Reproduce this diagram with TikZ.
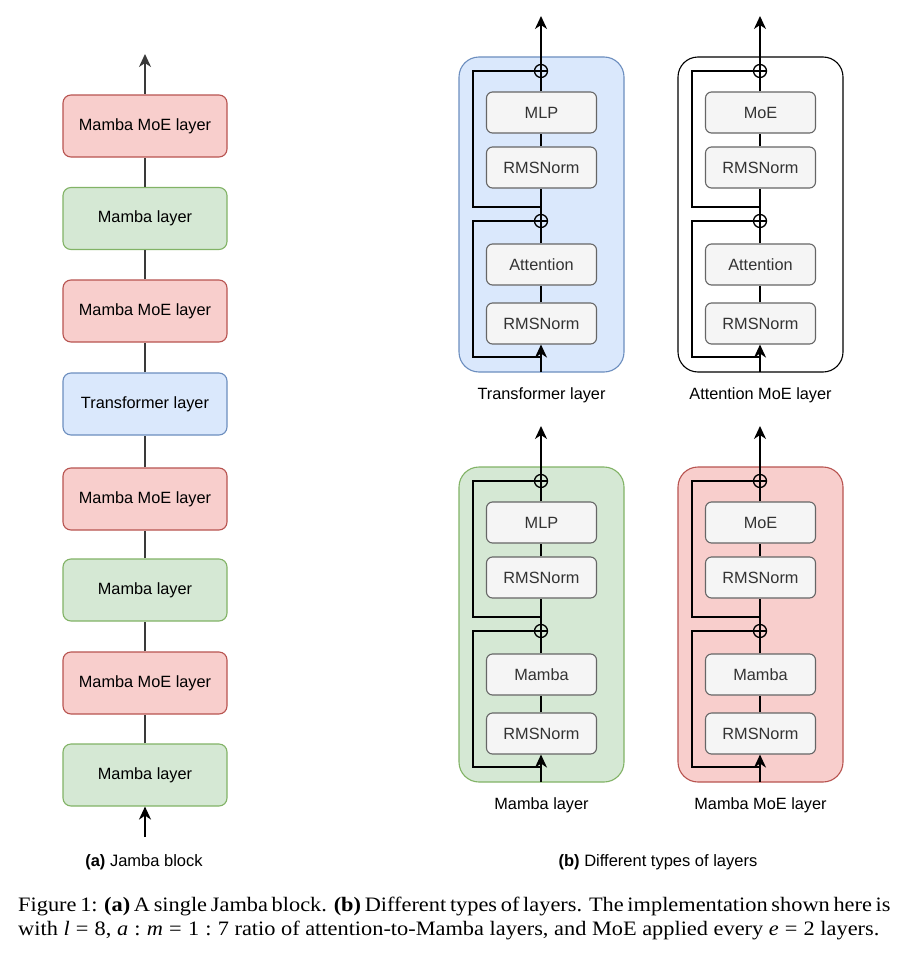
\documentclass[tikz,border=0pt]{standalone}
\usepackage{graphicx}
\usepackage{fontspec}
\setmainfont{Liberation Sans}
\newfontfamily\capfont{Liberation Serif}
\usetikzlibrary{arrows.meta}

\definecolor{redfill}{HTML}{F8CECC}
\definecolor{redline}{HTML}{B85450}
\definecolor{greenfill}{HTML}{D5E8D4}
\definecolor{greenline}{HTML}{82B366}
\definecolor{bluefill}{HTML}{DAE8FC}
\definecolor{blueline}{HTML}{6C8EBF}
\definecolor{greyfill}{HTML}{F5F5F5}
\definecolor{greyline}{HTML}{666666}
\definecolor{greytext}{HTML}{333333}
\definecolor{edgegrey}{HTML}{3A3A3A}

\tikzset{
  labelfont/.style={font=\fontsize{16.3}{19}\selectfont},
  blocklayer/.style={draw, rounded corners=8pt, minimum width=164pt,
    minimum height=62pt, line width=1.1pt, labelfont},
  mambaMoE/.style={blocklayer, fill=redfill, draw=redline},
  mambaL/.style={blocklayer, fill=greenfill, draw=greenline},
  transL/.style={blocklayer, fill=bluefill, draw=blueline},
  sublayer/.style={draw=greyline, fill=greyfill, rounded corners=6pt,
    minimum width=110pt, minimum height=41pt, line width=1.1pt,
    text=greytext, labelfont},
  container/.style={rounded corners=20pt, line width=1.1pt},
  sumnode/.style={circle, draw, line width=1.3pt, minimum size=13pt,
    inner sep=0pt, path picture={
      \draw[line width=1.3pt]
        (path picture bounding box.north) -- (path picture bounding box.south)
        (path picture bounding box.west) -- (path picture bounding box.east);}},
  flow/.style={line width=1.7pt},
  uparrow/.style={flow, -{Stealth[length=13pt,width=12pt,inset=4pt]}},
  subcap/.style={font=\fontsize{16.5}{19}\selectfont, anchor=base},
  capline/.style={anchor=base west, inner sep=0pt,
    font=\capfont\fontsize{20.5}{25}\selectfont},
}

% One residual layer: #1 name prefix, #2 x shift, #3 y shift, #4 container style,
% #5 upper sublayer, #6 lower mixer, #7 caption under the container
\newcommand{\residuallayer}[7]{%
  \begin{scope}[shift={(#2,#3)}]
    \path[container, #4] (459,57) rectangle (624,372);
    \node[sumnode] (#1-s1) at (541,71) {};
    \node[sublayer] (#1-f) at (541.5,112.5) {#5};
    \node[sublayer] (#1-n1) at (541.5,167.5) {RMSNorm};
    \node[sumnode] (#1-s2) at (541,221) {};
    \node[sublayer] (#1-m) at (541.5,264.5) {#6};
    \node[sublayer] (#1-n2) at (541.5,323.5) {RMSNorm};
    \coordinate (#1-out) at (541,16);
    \coordinate (#1-in) at (541,372);
    \coordinate (#1-b1) at (541,207);
    \coordinate (#1-k1) at (473,207);
    \coordinate (#1-b2) at (541,357);
    \coordinate (#1-k2) at (473,357);
    \node[labelfont] (#1-cap) at (541.5,395) {#7};
    % main path
    \draw[uparrow] (#1-in) -- (#1-in |- #1-n2.south);
    \draw[flow] (#1-s1 |- #1-n2.north) -- (#1-s1 |- #1-m.south);
    \draw[flow] (#1-s1 |- #1-m.north) -- (#1-s2);
    \draw[flow] (#1-s2) -- (#1-s2 |- #1-n1.south);
    \draw[flow] (#1-s1 |- #1-n1.north) -- (#1-s1 |- #1-f.south);
    \draw[flow] (#1-s1 |- #1-f.north) -- (#1-s1);
    \draw[uparrow] (#1-s1) -- (#1-out);
    % skip connections
    \draw[flow] (#1-b2) -- (#1-k2) |- (#1-s2.west);
    \draw[flow] (#1-b1) -- (#1-k1) |- (#1-s1.west);
  \end{scope}}

\begin{document}
\begin{tikzpicture}[x=1pt, y=-1pt]
  \useasboundingbox[fill=white] (0,0) rectangle (907,958);

  % (a) the Jamba block
  \node[mambaMoE] (a1) at (145,126)   {Mamba MoE layer};
  \node[mambaL]   (a2) at (145,218.5) {Mamba layer};
  \node[mambaMoE] (a3) at (145,311)   {Mamba MoE layer};
  \node[transL]   (a4) at (145,404)   {Transformer layer};
  \node[mambaMoE] (a5) at (145,499)   {Mamba MoE layer};
  \node[mambaL]   (a6) at (145,590)   {Mamba layer};
  \node[mambaMoE] (a7) at (145,683)   {Mamba MoE layer};
  \node[mambaL]   (a8) at (145,775)   {Mamba layer};
  \coordinate (aout) at (145,54);
  \coordinate (ain) at (145,837);
  \draw[uparrow, draw=edgegrey, fill=black] (a1) -- (aout);
  \foreach \lo/\hi in {a2/a1,a3/a2,a4/a3,a5/a4,a6/a5,a7/a6,a8/a7}
    \draw[flow, draw=edgegrey] (\lo) -- (\hi);
  \draw[uparrow] (ain) -- (a8.south);

  % (b) the four layer types
  \residuallayer{tr}{0}{0}{fill=bluefill, draw=blueline}{MLP}{Attention}{Transformer layer}
  \residuallayer{am}{219}{0}{fill=white, draw=black}{MoE}{Attention}{Attention MoE layer}
  \residuallayer{ml}{0}{410}{fill=greenfill, draw=greenline}{MLP}{Mamba}{Mamba layer}
  \residuallayer{mm}{219}{410}{fill=redfill, draw=redline}{MoE}{Mamba}{Mamba MoE layer}

  % sub-captions
  \node[subcap] (capa) at (144,866) {\textbf{(a)} Jamba block};
  \node[subcap] (capb) at (658,866) {\textbf{(b)} Different types of layers};

  % figure caption
  \node[capline] (cap1) at (18,911)
    {\scalebox{1.09}[1]{\hbox to 798pt{Figure 1: \textbf{(a)} A single Jamba block. \textbf{(b)} Different types of layers. The implementation shown here is}}};
  \node[capline] (cap2) at (18,935)
    {\scalebox{1.09}[1]{with \textit{l}\;=\;8, \textit{a}\;:\;\textit{m}\;=\;1\;:\;7 ratio of attention-to-Mamba layers, and MoE applied every \textit{e}\;=\;2 layers.}};
\end{tikzpicture}
\end{document}
